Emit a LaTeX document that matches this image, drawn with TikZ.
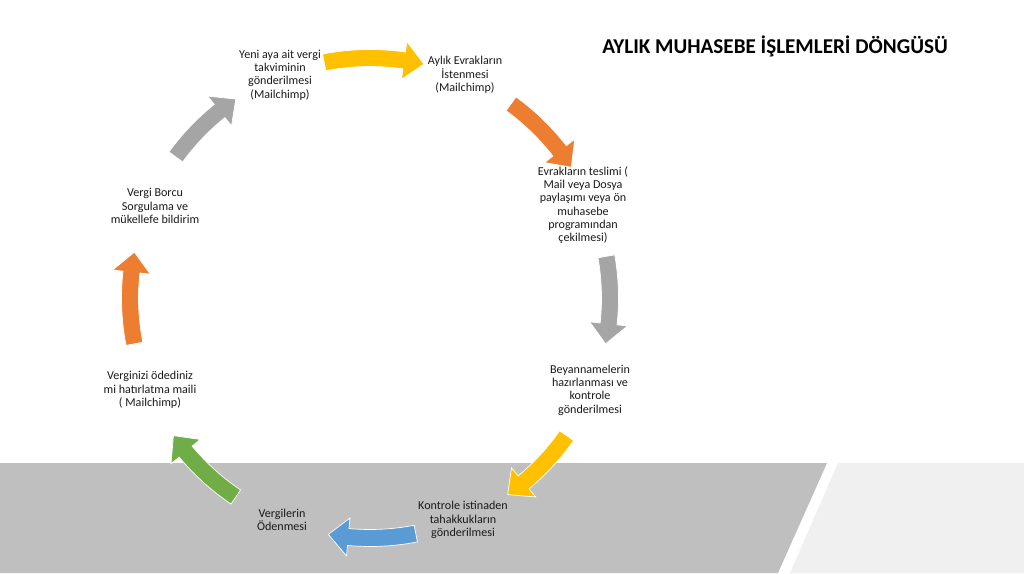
\documentclass[tikz,border=0pt]{standalone}
\usepackage{fontspec}
\setmainfont{Carlito}
\usepackage{tikz}
\usetikzlibrary{positioning}

\definecolor{okYellow}{HTML}{FFC000}
\definecolor{okOrange}{HTML}{ED7D31}
\definecolor{okGray}{HTML}{A5A5A5}
\definecolor{okBlue}{HTML}{5B9BD5}
\definecolor{okGreen}{HTML}{70AD47}
\definecolor{bandGray}{HTML}{BFBFBF}
\definecolor{bandLight}{HTML}{F0F0F0}
\definecolor{textDark}{HTML}{1A1A1A}

\begin{document}
\begin{tikzpicture}[
    x=0.025cm, y=0.025cm,
    adim/.style={
        align=center, text=textDark,
        font=\fontsize{8.6}{9.5}\selectfont
    },
    baslik/.style={font=\fontsize{15}{17}\selectfont\bfseries, text=black},
    ok/.style={fill=#1, draw=white, line width=0.5pt, line join=miter},
]
\useasboundingbox (0,0) rectangle (1024,573);

% Arka plan
\fill[bandGray]  (0,0) -- (0,110) -- (827,110) -- (778,0) -- cycle;
\fill[bandLight] (790,0) -- (838,110) -- (1024,110) -- (1024,0) -- cycle;

% Baslik
\node[baslik] (baslik) at (775,527) {AYLIK MUHASEBE İŞLEMLERİ DÖNGÜSÜ};

% Adimlar
\node[adim] (takvim)   at (280,498) {Yeni aya ait vergi\\takviminin\\gönderilmesi\\(Mailchimp)};
\node[adim] (evrak)    at (465,498) {Aylık Evrakların\\İstenmesi\\(Mailchimp)};
\node[adim] (teslim)   at (583,368) {Evrakların teslimi (\\Mail veya Dosya\\paylaşımı veya ön\\muhasebe\\programından\\çekilmesi)};
\node[adim] (beyan)    at (590,183) {Beyannamelerin\\hazırlanması ve\\kontrole\\gönderilmesi};
\node[adim] (tahakkuk) at (463,53)  {Kontrole istinaden\\tahakkukların\\gönderilmesi};
\node[adim] (odeme)    at (282,53)  {Vergilerin\\Ödenmesi};
\node[adim] (hatirlat) at (150,183) {Verginizi ödediniz\\mi hatırlatma maili\\( Mailchimp)};
\node[adim] (borc)     at (155,367) {Vergi Borcu\\Sorgulama ve\\mükellefe bildirim};

% Oklar (merkez etrafinda)
\coordinate (merkez) at (370,275);
\begin{scope}[shift={(merkez)}]
\fill[ok=okYellow] (101:248.5) arc[start angle=101, end angle=81.8, radius=248.5]
    -- (81.8:259) -- (77:240) -- (81.8:221) -- (81.8:231.5)
    arc[start angle=81.8, end angle=101, radius=231.5] -- cycle;
\fill[ok=okOrange] (54:248.5) arc[start angle=54, end angle=37.8, radius=248.5]
    -- (37.8:259) -- (33:240) -- (37.8:221) -- (37.8:231.5)
    arc[start angle=37.8, end angle=54, radius=231.5] -- cycle;
\fill[ok=okGray] (10:248.5) arc[start angle=10, end angle=-6.2, radius=248.5]
    -- (-6.2:259) -- (-11:240) -- (-6.2:221) -- (-6.2:231.5)
    arc[start angle=-6.2, end angle=10, radius=231.5] -- cycle;
\fill[ok=okYellow] (-35:248.5) arc[start angle=-35, end angle=-50.2, radius=248.5]
    -- (-50.2:259) -- (-55:240) -- (-50.2:221) -- (-50.2:231.5)
    arc[start angle=-50.2, end angle=-35, radius=231.5] -- cycle;
\fill[ok=okBlue] (-79:248.5) arc[start angle=-79, end angle=-95.2, radius=248.5]
    -- (-95.2:259) -- (-100:240) -- (-95.2:221) -- (-95.2:231.5)
    arc[start angle=-95.2, end angle=-79, radius=231.5] -- cycle;
\fill[ok=okGreen] (-124:248.5) arc[start angle=-124, end angle=-140.2, radius=248.5]
    -- (-140.2:259) -- (-145:240) -- (-140.2:221) -- (-140.2:231.5)
    arc[start angle=-140.2, end angle=-124, radius=231.5] -- cycle;
\fill[ok=okOrange] (191:248.5) arc[start angle=191, end angle=173.8, radius=248.5]
    -- (173.8:259) -- (169:240) -- (173.8:221) -- (173.8:231.5)
    arc[start angle=173.8, end angle=191, radius=231.5] -- cycle;
\fill[ok=okGray] (144:248.5) arc[start angle=144, end angle=128.8, radius=248.5]
    -- (128.8:259) -- (124:240) -- (128.8:221) -- (128.8:231.5)
    arc[start angle=128.8, end angle=144, radius=231.5] -- cycle;
\end{scope}
\end{tikzpicture}
\end{document}
